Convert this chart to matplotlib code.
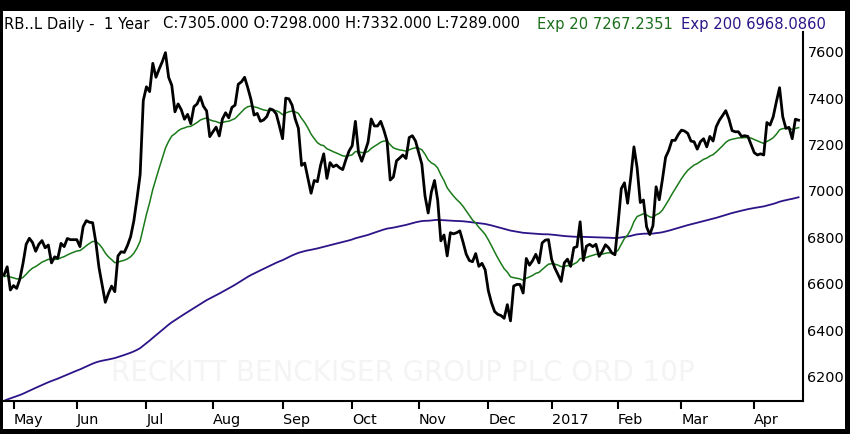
import numpy as np
import pandas as pd
import matplotlib
matplotlib.use('Agg')
import matplotlib.pyplot as plt
from matplotlib.patches import Rectangle

# daily closes, RB..L, 27 Apr 2016 - 25 Apr 2017
closes = [
    6638, 6673, 6573, 6592, 6580, 6620, 6688, 6770, 6796, 6778,
    6740, 6770, 6786, 6755, 6767, 6690, 6716, 6710, 6774, 6760,
    6795, 6790, 6790, 6790, 6760, 6846, 6872, 6865, 6863, 6780,
    6670, 6595, 6520, 6559, 6590, 6566, 6720, 6738, 6735, 6765,
    6803, 6870, 6965, 7070, 7390, 7449, 7428, 7550, 7490, 7525,
    7557, 7596, 7490, 7455, 7341, 7375, 7350, 7309, 7330, 7290,
    7363, 7375, 7406, 7365, 7345, 7234, 7255, 7275, 7237, 7310,
    7337, 7315, 7360, 7370, 7460, 7470, 7490, 7445, 7395, 7327,
    7334, 7300, 7306, 7320, 7354, 7349, 7332, 7280, 7225, 7400,
    7397, 7370, 7310, 7270, 7110, 7120, 7055, 6990, 7045, 7040,
    7110, 7160, 7054, 7122, 7104, 7112, 7100, 7092, 7135, 7172,
    7195, 7300, 7165, 7128, 7168, 7210, 7310, 7280, 7280, 7300,
    7262, 7215, 7047, 7060, 7130, 7142, 7155, 7140, 7230, 7238,
    7215, 7165, 7115, 6978, 6905, 6995, 7045, 6960, 6785, 6810,
    6720, 6820, 6815, 6820, 6828, 6780, 6728, 6700, 6695, 6730,
    6675, 6688, 6660, 6570, 6518, 6480, 6468, 6463, 6451, 6510,
    6440, 6590, 6597, 6597, 6560, 6709, 6680, 6700, 6727, 6690,
    6776, 6788, 6790, 6705, 6668, 6640, 6610, 6690, 6706, 6675,
    6755, 6760, 6867, 6700, 6762, 6770, 6760, 6770, 6718, 6740,
    6768, 6755, 6733, 6725, 6860, 7010, 7035, 6947, 7060, 7190,
    7100, 6950, 6961, 6845, 6812, 6850, 7018, 6962, 7050, 7145,
    7175, 7218, 7218, 7243, 7262, 7258, 7248, 7215, 7212, 7180,
    7212, 7225, 7190, 7235, 7215, 7277, 7305, 7325, 7346, 7310,
    7260, 7255, 7255, 7235, 7238, 7235, 7200, 7165, 7155, 7160,
    7155, 7295, 7284, 7320, 7385, 7445, 7320, 7270, 7274, 7225,
    7309, 7305,
]
uk_holidays = ['2016-05-02', '2016-05-30', '2016-08-29', '2016-12-26',
               '2016-12-27', '2017-01-02', '2017-04-14', '2017-04-17']
month_labels = ['May', 'Jun', 'Jul', 'Aug', 'Sep', 'Oct', 'Nov', 'Dec',
                '2017', 'Feb', 'Mar', 'Apr']
ema20_start = 6630
ema200_start = 6090
y_ticks = [6200, 6400, 6600, 6800, 7000, 7200, 7400, 7600]

dates = pd.bdate_range('2016-04-27', '2017-04-25')
dates = dates[~dates.isin(pd.to_datetime(uk_holidays))]
px = pd.Series(closes, index=dates[:len(closes)])
idx = np.arange(len(px))

ema20 = pd.Series([ema20_start] + closes).ewm(span=20, adjust=False).mean().values[1:]
ema200 = pd.Series([ema200_start] + closes).ewm(span=200, adjust=False).mean().values[1:]

months = px.index.to_period('M')
first_idx = [i for i in range(1, len(px)) if months[i] != months[i - 1]]

W, H = 850, 434
fig = plt.figure(figsize=(W / 100, H / 100), dpi=100, facecolor='black')
fig.patches.append(Rectangle((3 / W, 5 / H), 842 / W, 418 / H, transform=fig.transFigure,
                             facecolor='white', edgecolor='none', zorder=-10))

ax = fig.add_axes([3 / W, (H - 400.7) / H, 800.3 / W, 368.7 / H])
ax.set_zorder(5)
ax.set_facecolor('none')
ax.plot(idx, ema200, color='#2d1488', lw=1.3, zorder=2)
ax.plot(idx, ema20, color='#1a7a1a', lw=1.1, zorder=3)
ax.plot(idx, closes, color='black', lw=2.0, zorder=4)

ax.set_xlim(-0.32, 252.5)
ax.set_ylim(6096, 7685)

for s in ['left', 'top']:
    ax.spines[s].set_visible(False)
for s in ['right', 'bottom']:
    ax.spines[s].set_linewidth(1.5)

ax.yaxis.tick_right()
ax.set_yticks(y_ticks)
ax.set_yticklabels([str(v) for v in y_ticks])
ax.tick_params(axis='y', length=0, pad=3, labelsize=10.4)
ax.set_xticks(first_idx)
ax.set_xticklabels(month_labels[:len(first_idx)], ha='left')
ax.tick_params(axis='x', direction='out', length=6, width=1.5, pad=3, labelsize=10.4)

ax.text(0.5, 0.075, 'RECKITT BENCKISER GROUP PLC ORD 10P', transform=ax.transAxes,
        ha='center', va='center', fontsize=20, color='#f4f4f4', zorder=1)

yb = (H - 28.5) / H
fig.text(4 / W, yb, 'RB..L Daily -  1 Year', fontsize=10.6, va='baseline')
fig.text(163 / W, yb, 'C:7305.000 O:7298.000 H:7332.000 L:7289.000', fontsize=10.6, va='baseline')
fig.text(537 / W, yb, 'Exp 20 7267.2351', fontsize=10.6, va='baseline', color='#1a6e1a')
fig.text(681 / W, yb, 'Exp 200 6968.0860', fontsize=10.6, va='baseline', color='#2d1488')

fig.savefig('out.png', dpi=100, facecolor=fig.get_facecolor())
